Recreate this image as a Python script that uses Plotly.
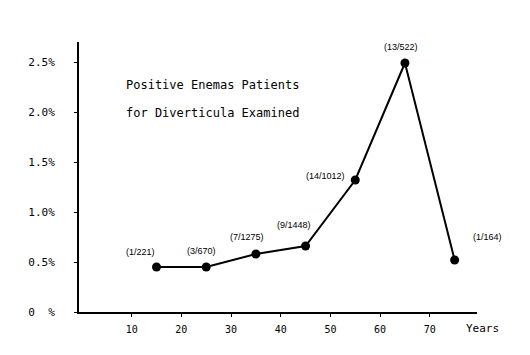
import plotly.graph_objects as go

ages = [15, 25, 35, 45, 55, 65, 75]
rates = [0.45, 0.45, 0.58, 0.66, 1.32, 2.49, 0.52]
point_labels = ["(1/221)", "(3/670)", "(7/1275)", "(9/1448)", "(14/1012)", "(13/522)", "(1/164)"]

x_ticks = [10, 20, 30, 40, 50, 60, 70]
y_ticks = [0, 0.5, 1.0, 1.5, 2.0, 2.5]
y_tick_text = ["0  %", "0.5%", "1.0%", "1.5%", "2.0%", "2.5%"]

mono = "DejaVu Sans Mono"
narrow = "Liberation Sans Narrow, Liberation Sans, sans-serif"

fig = go.Figure()
fig.add_trace(go.Scatter(
    x=ages, y=rates, mode="lines+markers",
    line=dict(color="black", width=2),
    marker=dict(color="black", size=9),
    showlegend=False, hoverinfo="skip", cliponaxis=False,
))

# data label offsets from their points (px)
label_pos = [
    (-16, 15), (-5, 16), (-9, 17), (-12, 21), (-30, 4), (-4, 16), (33, 23),
]
for x, y, t, (dx, dy) in zip(ages, rates, point_labels, label_pos):
    fig.add_annotation(x=x, y=y, text=t, showarrow=False, xref="x", yref="y",
                       xshift=dx, yshift=dy,
                       font=dict(family=narrow, size=9, color="black"))

fig.add_annotation(x=8.5, y=2.27, xref="x", yref="y", text="Positive Enemas Patients",
                   showarrow=False, xanchor="left",
                   font=dict(family=mono, size=12, color="black"))
fig.add_annotation(x=8.5, y=1.99, xref="x", yref="y", text="for Diverticula Examined",
                   showarrow=False, xanchor="left",
                   font=dict(family=mono, size=12, color="black"))
fig.add_annotation(x=0.967, y=0, xref="paper", yref="paper", text="Years", showarrow=False,
                   xanchor="left", yanchor="top", yshift=-8,
                   font=dict(family=mono, size=11, color="black"))

# page body has an 8px margin, so the figure is shrunk by 8px and margins shifted
fig.update_layout(
    width=522, height=347,
    margin=dict(l=71, r=53, t=34, b=43, autoexpand=False),
    paper_bgcolor="white", plot_bgcolor="white",
    font=dict(family=mono, size=10, color="black"),
)
fig.update_xaxes(
    range=[-0.6, 79.5], tickvals=x_ticks, ticktext=[str(v) for v in x_ticks],
    showline=True, linecolor="black", linewidth=2, showgrid=False, zeroline=False,
    ticks="outside", ticklen=3, tickcolor="black", ticklabelstandoff=4,
    tickfont=dict(family=mono, size=10), automargin=False,
)
fig.update_yaxes(
    range=[0, 2.7], tickvals=y_ticks, ticktext=y_tick_text,
    showline=True, linecolor="black", linewidth=2, showgrid=False, zeroline=False,
    ticks="outside", ticklen=3, tickcolor="black", ticklabelstandoff=17,
    tickfont=dict(family=mono, size=11), automargin=False,
)

fig.write_html("out.html")
